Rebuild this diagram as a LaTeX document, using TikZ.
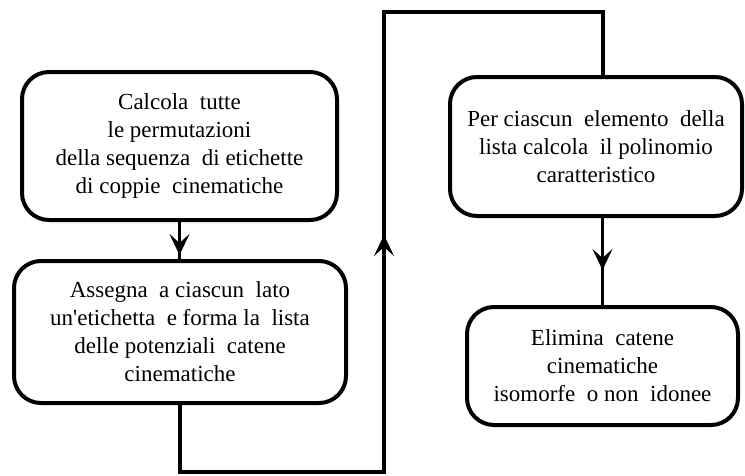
\documentclass[tikz,border=0pt]{standalone}
\usepackage{fontspec}
\newfontfamily\boxfont{Liberation Serif}
\usetikzlibrary{arrows.meta,decorations.markings}
\begin{document}
\begin{tikzpicture}[x=1pt,y=-1pt,
  box/.style={draw, rounded corners=27pt, line width=4pt, align=center,
    font=\boxfont\fontsize{23}{28}\selectfont, inner sep=0pt},
  conn/.style={line width=3.8pt},
  tipat/.style={decoration={markings, mark=at position #1 with {\arrow{Stealth[length=21pt,width=20pt,inset=9pt]}}}, postaction=decorate}]
\useasboundingbox (0,0) rectangle (745,475);
\node[box, minimum width=315pt, minimum height=148pt] (b1) at (179.5,146)
  {Calcola\ \ tutte\\ le permutazioni\\ della\ sequenza\ \ di etichette\\ di coppie\ \ cinematiche};
\node[box, minimum width=332pt, minimum height=142pt] (b2) at (180,332)
  {Assegna\ \ a ciascun\ \ lato\\ un'etichetta\ \ e forma la\ \ lista\\ delle potenziali\ \ catene\\ cinematiche};
\node[box, minimum width=292pt, minimum height=139pt] (b3) at (596,146.5)
  {Per ciascun\ \ elemento\ \ della\\ lista calcola\ \ il polinomio\\ caratteristico};
\node[box, minimum width=271pt, minimum height=118pt] (b4) at (602.5,366)
  {Elimina\ \ catene\\ cinematiche\\ isomorfe\ \ o non\ \ idonee};
\coordinate (c2) at (384,472);
\coordinate (c3) at (384,12);
\coordinate (c4) at (603,12);
\draw[conn, tipat=33pt] (b1.south) -- (b1.south |- b2.north);
\draw[conn, tipat=508pt] (b2.south) |- (c2) -- (c3) -- (c4) -- (c4 |- b3.north);
\draw[conn, tipat=52pt] (b4.north |- b3.south) -- (b4.north);
\end{tikzpicture}
\end{document}
